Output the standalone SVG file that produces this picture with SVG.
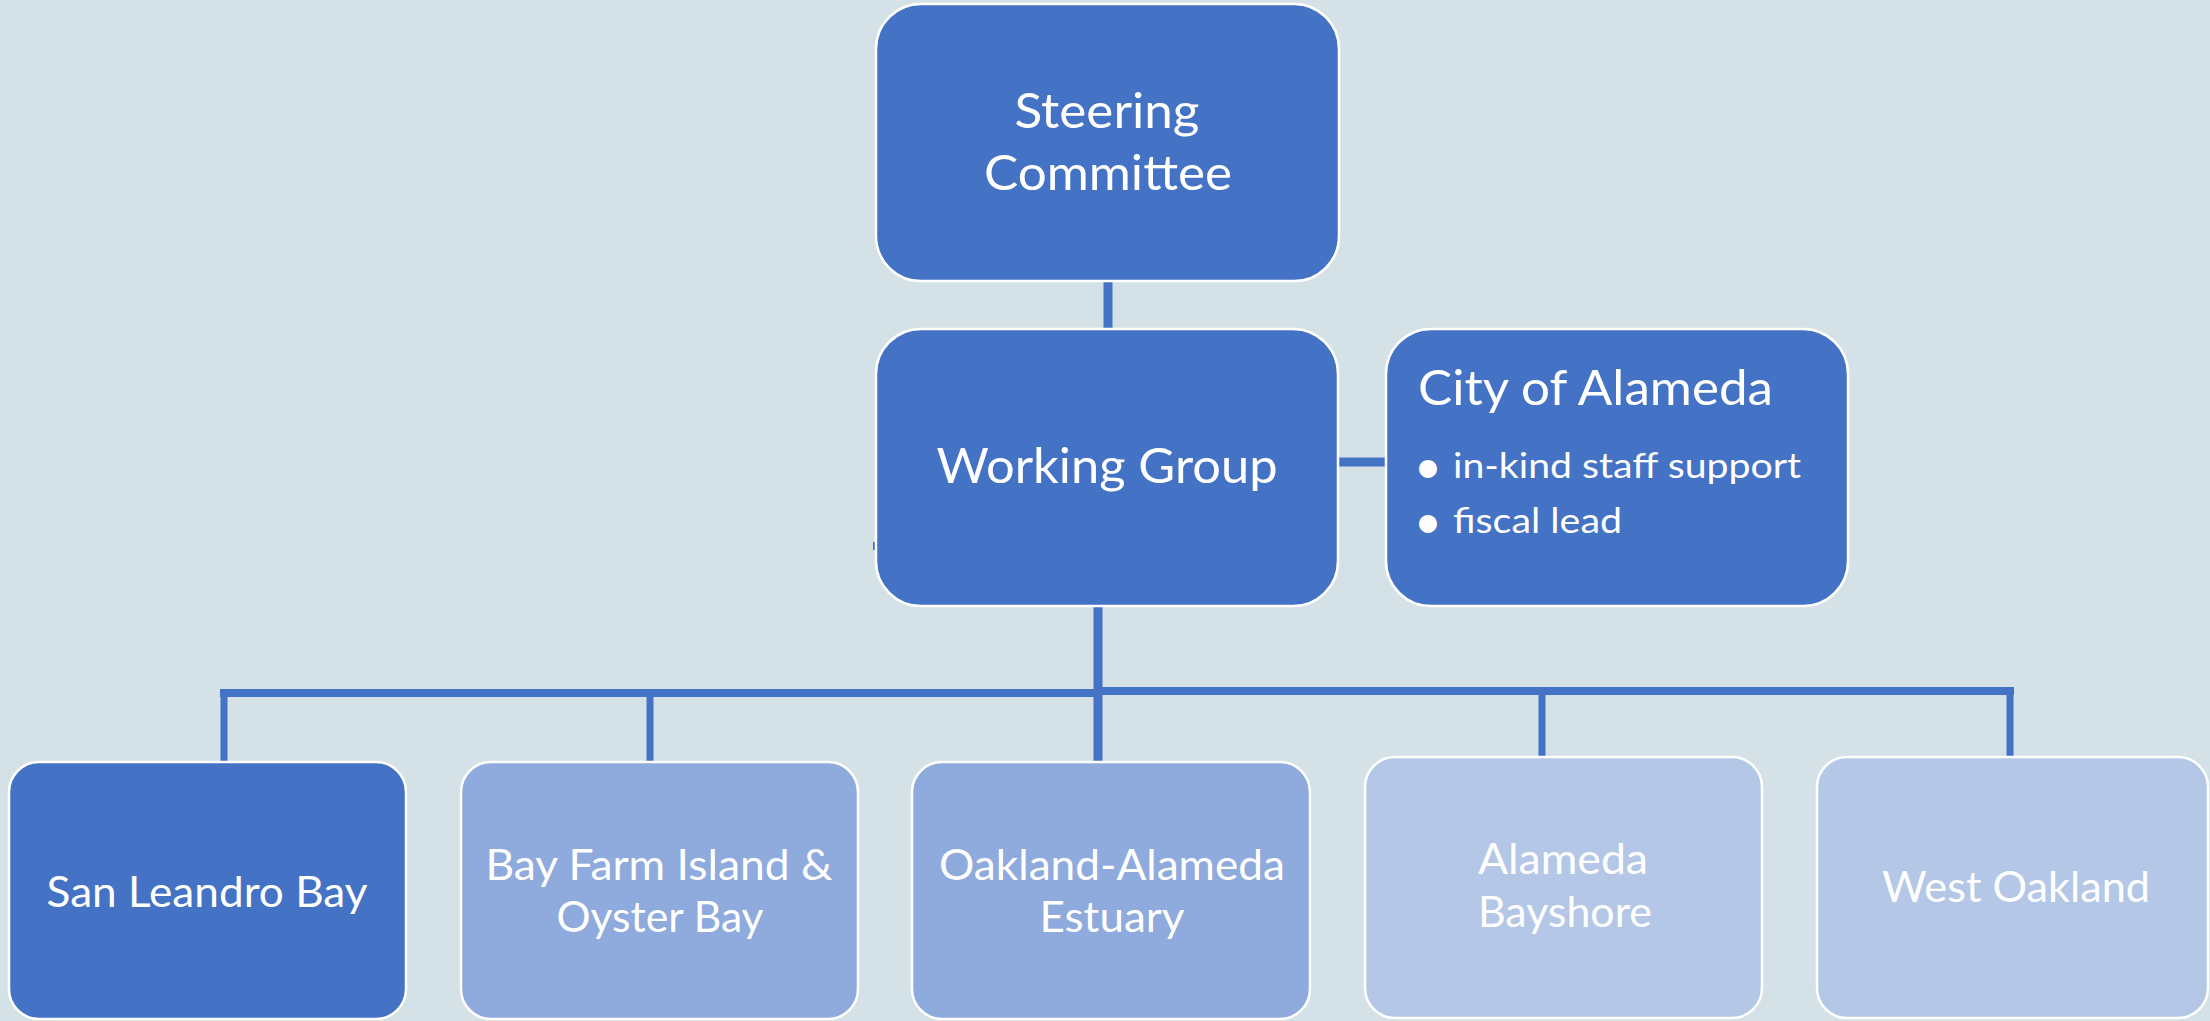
<svg xmlns="http://www.w3.org/2000/svg" width="2210" height="1021" viewBox="0 0 2210 1021">
<style>
.box{stroke:#FFFFFF;stroke-width:2.5}
.dark{fill:#4472C4}
.mid{fill:#8FAADC}
.light{fill:#B4C7E7}
.t{font-family:Lato,"Open Sans","Liberation Sans",sans-serif;fill:#FFFFFF}
.big{font-size:48px}
.med{font-size:42px}
.small{font-size:35px}
.bul{font-size:48px}
.c{text-anchor:middle}
.conn line{stroke:#4472C4;stroke-linecap:butt}
</style>
<rect width="2210" height="1021" fill="#D4E2E7"/>
<g class="conn" id="connectors">
<line x1="1108" y1="280" x2="1108" y2="330" stroke-width="9"/>
<line x1="1337" y1="462" x2="1387" y2="462" stroke-width="9"/>
<line x1="1098" y1="605" x2="1098" y2="763" stroke-width="9"/>
<line x1="220" y1="693" x2="1098" y2="693" stroke-width="8"/>
<line x1="1098" y1="691" x2="2014" y2="691" stroke-width="8"/>
<line x1="224" y1="689" x2="224" y2="763" stroke-width="7"/>
<line x1="650" y1="693" x2="650" y2="763" stroke-width="7"/>
<line x1="1542" y1="691" x2="1542" y2="758" stroke-width="7"/>
<line x1="2010" y1="687" x2="2010" y2="758" stroke-width="7"/>
<rect x="873" y="542" width="4" height="8" fill="#4472C4"/>
</g>
<g id="steering">
<rect class="box dark" x="876" y="4" width="463" height="277" rx="45"/>
<text class="t big c" x="1107" y="128" textLength="185" lengthAdjust="spacingAndGlyphs">Steering</text>
<text class="t big c" x="1108" y="190" textLength="248" lengthAdjust="spacingAndGlyphs">Committee</text>
</g>
<g id="working">
<rect class="box dark" x="876" y="329" width="462" height="277" rx="45"/>
<text class="t big c" x="1107" y="483" textLength="341" lengthAdjust="spacingAndGlyphs">Working Group</text>
</g>
<g id="city">
<rect class="box dark" x="1386" y="329" width="462" height="277" rx="45"/>
<text class="t big" x="1418" y="405" textLength="355" lengthAdjust="spacingAndGlyphs">City of Alameda</text>
<text class="t bul" x="1414" y="483">•</text>
<text class="t small" x="1453" y="478" textLength="348" lengthAdjust="spacingAndGlyphs">in-kind staff support</text>
<text class="t bul" x="1414" y="538">•</text>
<text class="t small" x="1453" y="533" textLength="169" lengthAdjust="spacingAndGlyphs">fiscal lead</text>
</g>
<g id="sanleandro">
<rect class="box dark" x="9" y="762" width="397" height="257" rx="30"/>
<text class="t med c" x="207" y="907" textLength="321" lengthAdjust="spacingAndGlyphs">San Leandro Bay</text>
</g>
<g id="bayfarm">
<rect class="box mid" x="461" y="762" width="397" height="257" rx="30"/>
<text class="t med c" x="659" y="880" textLength="347" lengthAdjust="spacingAndGlyphs">Bay Farm Island &amp;</text>
<text class="t med c" x="660" y="932" textLength="207" lengthAdjust="spacingAndGlyphs">Oyster Bay</text>
</g>
<g id="oakland">
<rect class="box mid" x="912" y="762" width="398" height="257" rx="30"/>
<text class="t med c" x="1112" y="880" textLength="346" lengthAdjust="spacingAndGlyphs">Oakland-Alameda</text>
<text class="t med c" x="1112" y="932" textLength="145" lengthAdjust="spacingAndGlyphs">Estuary</text>
</g>
<g id="bayshore">
<rect class="box light" x="1365" y="757" width="397" height="261" rx="30"/>
<text class="t med c" x="1563" y="874" textLength="170" lengthAdjust="spacingAndGlyphs">Alameda</text>
<text class="t med c" x="1565" y="927" textLength="174" lengthAdjust="spacingAndGlyphs">Bayshore</text>
</g>
<g id="westoakland">
<rect class="box light" x="1817" y="757" width="391" height="261" rx="30"/>
<text class="t med c" x="2016" y="902" textLength="268" lengthAdjust="spacingAndGlyphs">West Oakland</text>
</g>
</svg>
